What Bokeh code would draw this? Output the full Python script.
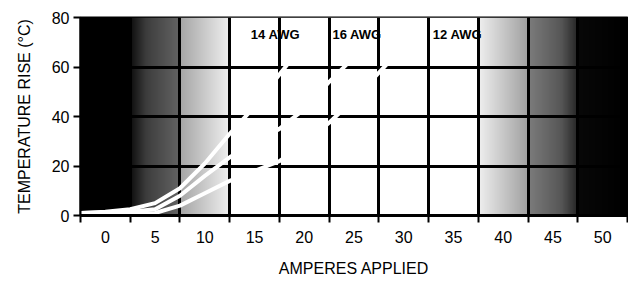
import numpy as np
from bokeh.plotting import figure
from bokeh.models import FixedTicker, Range1d
from bokeh.core.properties import value
from bokeh.embed import file_html
from bokeh.resources import INLINE

# ---- data ----
x_tick_labels = [0, 5, 10, 15, 20, 25, 30, 35, 40, 45, 50]
x_bounds = [-2.5, 2.5, 7.5, 12.5, 17.5, 22.5, 27.5, 32.5, 37.5, 42.5, 47.5, 52.5]
y_ticks = [0, 20, 40, 60, 80]

awg14_x = [-2.5, 0, 2.5, 5, 7.5, 10, 12.5, 15, 17.5, 18.5]
awg14_y = [1, 1.5, 2.5, 5, 11, 21, 33, 44, 57, 62]

awg16_x = [-2.5, 0, 2.5, 5, 7.5, 10, 12.5, 15, 17.5, 20, 22.5, 24.5]
awg16_y = [1, 1.2, 1.5, 2.5, 8, 16, 23.5, 29.5, 35, 43, 54, 62]

awg12_x = [-2.5, 5, 7.5, 10, 12.5, 15, 17.5, 20, 22.5, 25, 28.5]
awg12_y = [0.5, 1, 4, 9, 14, 18, 22, 29, 37.5, 47, 62]

label_text = ["14 AWG", "16 AWG", "12 AWG"]
label_x = [17.1, 25.3, 35.4]
label_y = [73, 73, 73]

FONT = "Liberation Sans"

p = figure(width=628, height=284, output_backend="svg", toolbar_location=None,
           x_range=Range1d(-2.5, 52.5), y_range=Range1d(0, 80),
           min_border_left=80, min_border_right=1, min_border_top=17, min_border_bottom=69)
p.background_fill_color = "white"
p.border_fill_color = "white"
p.outline_line_color = "black"
p.outline_line_width = 2

# ---- background gradient (decoration) ----
gx = np.linspace(-2.5, 52.5, 551)
kx = [-2.5, 2.5, 2.5, 4.0, 7.5, 7.5, 12.5, 12.5, 37.5, 37.5, 42.5, 42.5, 46.0, 47.5, 47.5, 52.5]
kv = [0, 0, 15, 60, 100, 165, 240, 255, 255, 240, 160, 125, 85, 40, 8, 0]
row = np.interp(gx, kx, kv).astype(np.uint32)
img = np.empty((2, gx.size), dtype=np.uint32)
view = img.view(dtype=np.uint8).reshape((2, gx.size, 4))
for r in range(2):
    view[r, :, 0] = row
    view[r, :, 1] = row
    view[r, :, 2] = row
    view[r, :, 3] = 255
bg = p.image_rgba(image=[img], x=-2.5, y=0, dw=55, dh=80)
bg.level = "image"

# ---- wire labels (under grid) ----
t = p.text(x=label_x, y=label_y, text=label_text, text_font=value(FONT),
           text_font_style="bold", text_font_size="13px", text_align="center",
           text_baseline="middle", text_color="black")
t.level = "image"

# ---- curves ----
for xs, ys in [(awg12_x, awg12_y), (awg16_x, awg16_y), (awg14_x, awg14_y)]:
    p.line(xs, ys, line_color="white", line_width=4, line_join="round", line_cap="round")

# ---- axes / grid ----
xt = FixedTicker(ticks=x_tick_labels, minor_ticks=x_bounds)
p.xaxis.ticker = xt
p.xgrid.ticker = xt
p.xgrid.grid_line_color = None
p.xgrid.minor_grid_line_color = "black"
p.xgrid.minor_grid_line_width = 3
p.xaxis.major_tick_line_color = None
p.xaxis.major_tick_out = 6
p.xaxis.minor_tick_line_color = "black"
p.xaxis.minor_tick_line_width = 2
p.xaxis.minor_tick_out = 7
p.xaxis.minor_tick_in = 0
p.xaxis.axis_line_width = 3
p.xaxis.major_label_standoff = 8

yt = FixedTicker(ticks=y_ticks)
p.yaxis.ticker = yt
p.ygrid.ticker = yt
p.ygrid.grid_line_color = "black"
p.ygrid.grid_line_width = 3
p.yaxis.major_tick_line_width = 2
p.yaxis.major_tick_out = 7
p.yaxis.major_tick_in = 0
p.yaxis.minor_tick_line_color = None
p.yaxis.axis_line_width = 2
p.yaxis.major_label_standoff = 4

for ax in (p.xaxis[0], p.yaxis[0]):
    ax.major_label_text_font = FONT
    ax.major_label_text_font_size = "16px"
    ax.major_label_text_color = "black"
    ax.axis_label_text_font = FONT
    ax.axis_label_text_font_style = "normal"
    ax.axis_label_text_color = "black"

p.xaxis.axis_label = "AMPERES APPLIED"
p.yaxis.axis_label = "TEMPERATURE RISE (°C)"
p.xaxis.axis_label_text_font_size = "16px"
p.yaxis.axis_label_text_font_size = "16px"
p.xaxis.axis_label_standoff = 14
p.yaxis.axis_label_standoff = 16

open("out.html", "w").write(file_html(p, INLINE))
